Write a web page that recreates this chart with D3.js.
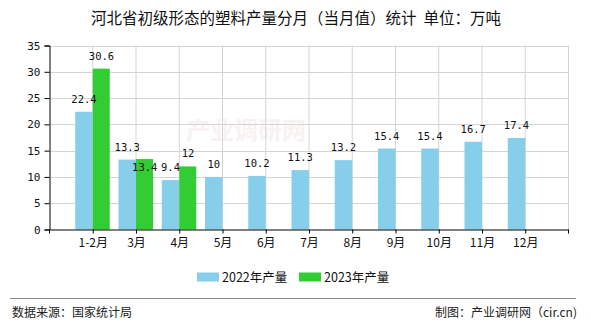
<!DOCTYPE html>
<html>
<head>
<meta charset="utf-8">
<script src="https://cdn.jsdelivr.net/npm/d3@7/dist/d3.min.js"></script>
<style>
  html, body { margin: 0; padding: 0; background: #fff; }
  svg { display: block; }
</style>
</head>
<body>
<svg id="chart" width="590" height="330"></svg>
<script>
// Monthly output of primary-form plastics, Hebei (10k tonnes)
const categories = ["1-2月", "3月", "4月", "5月", "6月", "7月", "8月", "9月", "10月", "11月", "12月"];
const values2022 = [22.4, 13.3, 9.4, 10, 10.2, 11.3, 13.2, 15.4, 15.4, 16.7, 17.4];
const values2023 = [30.6, 13.4, 12];
const seriesNames = ["2022年产量", "2023年产量"];
const yTicks = [0, 5, 10, 15, 20, 25, 30, 35];

const colors = ["#87ceeb", "#32cd32"];
const numFont = "'DejaVu Sans Mono', 'Liberation Mono', monospace";
const cjkFont = "'Noto Sans CJK SC', 'Noto Sans', sans-serif";

const svg = d3.select("#chart");
const plotLeft = 49.5, plotRight = 568.5, plotTop = 45.5, plotBottom = 229.5;

const x = d3.scalePoint().domain(categories).range([plotLeft, plotRight]).padding(1);
const y = d3.scaleLinear().domain([0, 35]).range([plotBottom, plotTop]);
const barW = 17.5;
const labelGap = 9;

// Title
svg.append("text")
  .attr("x", 296).attr("y", 24)
  .attr("text-anchor", "middle")
  .attr("font-family", cjkFont).attr("font-size", 15.5)
  .attr("fill", "#111")
  .text("河北省初级形态的塑料产量分月（当月值）统计\u00a0\u00a0单位：万吨");

// Faint watermark
svg.append("text")
  .attr("x", 246).attr("y", 139)
  .attr("text-anchor", "middle")
  .attr("font-family", cjkFont).attr("font-size", 24).attr("font-weight", "bold")
  .attr("fill", "#f8f2f2")
  .text("产业调研网");

// Grid
const grid = svg.append("g").attr("stroke", "#d4d4d4").attr("stroke-width", 1);
yTicks.filter(d => d > 0).forEach(t => {
  grid.append("line").attr("x1", plotLeft).attr("x2", plotRight)
    .attr("y1", Math.round(y(t)) + 0.5).attr("y2", Math.round(y(t)) + 0.5);
});
const vTicks = categories.map(c => x(c)).concat([plotRight]);
vTicks.forEach(px => {
  grid.append("line").attr("x1", px).attr("x2", px)
    .attr("y1", y(35)).attr("y2", plotBottom);
});

// Bars
const bars = svg.append("g");
bars.selectAll("rect.s2022").data(values2022).join("rect")
  .attr("class", "s2022")
  .attr("x", (d, i) => x(categories[i]) - barW)
  .attr("y", d => y(d))
  .attr("width", barW)
  .attr("height", d => plotBottom - y(d))
  .attr("fill", colors[0]);
bars.selectAll("rect.s2023").data(values2023).join("rect")
  .attr("class", "s2023")
  .attr("x", (d, i) => x(categories[i]))
  .attr("y", d => y(d))
  .attr("width", barW - 0.5)
  .attr("height", d => plotBottom - y(d))
  .attr("fill", colors[1]);

// Value labels (a 2023 label that would collide with its 2022 neighbour drops inside the bar)
const labels = svg.append("g")
  .attr("font-family", numFont).attr("font-size", 10.5)
  .attr("fill", "#111").attr("text-anchor", "middle");
values2022.forEach((d, i) => {
  labels.append("text")
    .attr("x", x(categories[i]) - barW / 2)
    .attr("y", y(d) - labelGap)
    .text(String(d));
});
values2023.forEach((d, i) => {
  const collides = Math.abs(y(d) - y(values2022[i])) < 12;
  labels.append("text")
    .attr("x", x(categories[i]) + barW / 2)
    .attr("y", collides ? y(d) + 11.5 : y(d) - labelGap)
    .text(String(d));
});

// Y axis
const yAxis = svg.append("g").attr("transform", `translate(${plotLeft},0)`)
  .call(d3.axisLeft(y).tickValues(yTicks).tickSize(5).tickPadding(4).tickFormat(d3.format("d")));
yAxis.select(".domain").attr("stroke", "#000");
yAxis.selectAll(".tick line").attr("stroke", "#000");
yAxis.selectAll("text").attr("font-family", numFont).attr("font-size", 11).attr("fill", "#111");

// X axis
const xAxis = svg.append("g").attr("transform", `translate(0,${plotBottom})`)
  .call(d3.axisBottom(x).tickSize(4).tickPadding(5));
xAxis.select(".domain").attr("stroke", "#000").attr("d", `M${plotLeft},0.5H${plotRight}`);
xAxis.selectAll(".tick line").attr("stroke", "#000");
xAxis.selectAll("text").attr("font-family", cjkFont).attr("font-size", 12).attr("fill", "#111");
[plotLeft, plotRight].forEach(px => {
  xAxis.append("line").attr("x1", px).attr("x2", px).attr("y1", 0).attr("y2", 4).attr("stroke", "#000");
});

// Legend
const legend = svg.append("g");
const legendX = [197, 299];
seriesNames.forEach((name, i) => {
  legend.append("rect")
    .attr("x", legendX[i]).attr("y", 272.5)
    .attr("width", 22).attr("height", 9)
    .attr("fill", colors[i]);
  legend.append("text")
    .attr("x", legendX[i] + 25).attr("y", 281.5)
    .attr("font-family", cjkFont).attr("font-size", 12.5).attr("fill", "#111")
    .text(name);
});

// Footer
svg.append("line")
  .attr("x1", 10).attr("x2", 576).attr("y1", 298.5).attr("y2", 298.5)
  .attr("stroke", "#888").attr("stroke-width", 1);
svg.append("text")
  .attr("x", 12).attr("y", 316.5)
  .attr("font-family", cjkFont).attr("font-size", 12).attr("fill", "#222")
  .text("数据来源：国家统计局");
svg.append("text")
  .attr("x", 577).attr("y", 316.5).attr("text-anchor", "end")
  .attr("font-family", cjkFont).attr("font-size", 12).attr("fill", "#222")
  .text("制图：产业调研网（cir.cn)");
</script>
</body>
</html>
